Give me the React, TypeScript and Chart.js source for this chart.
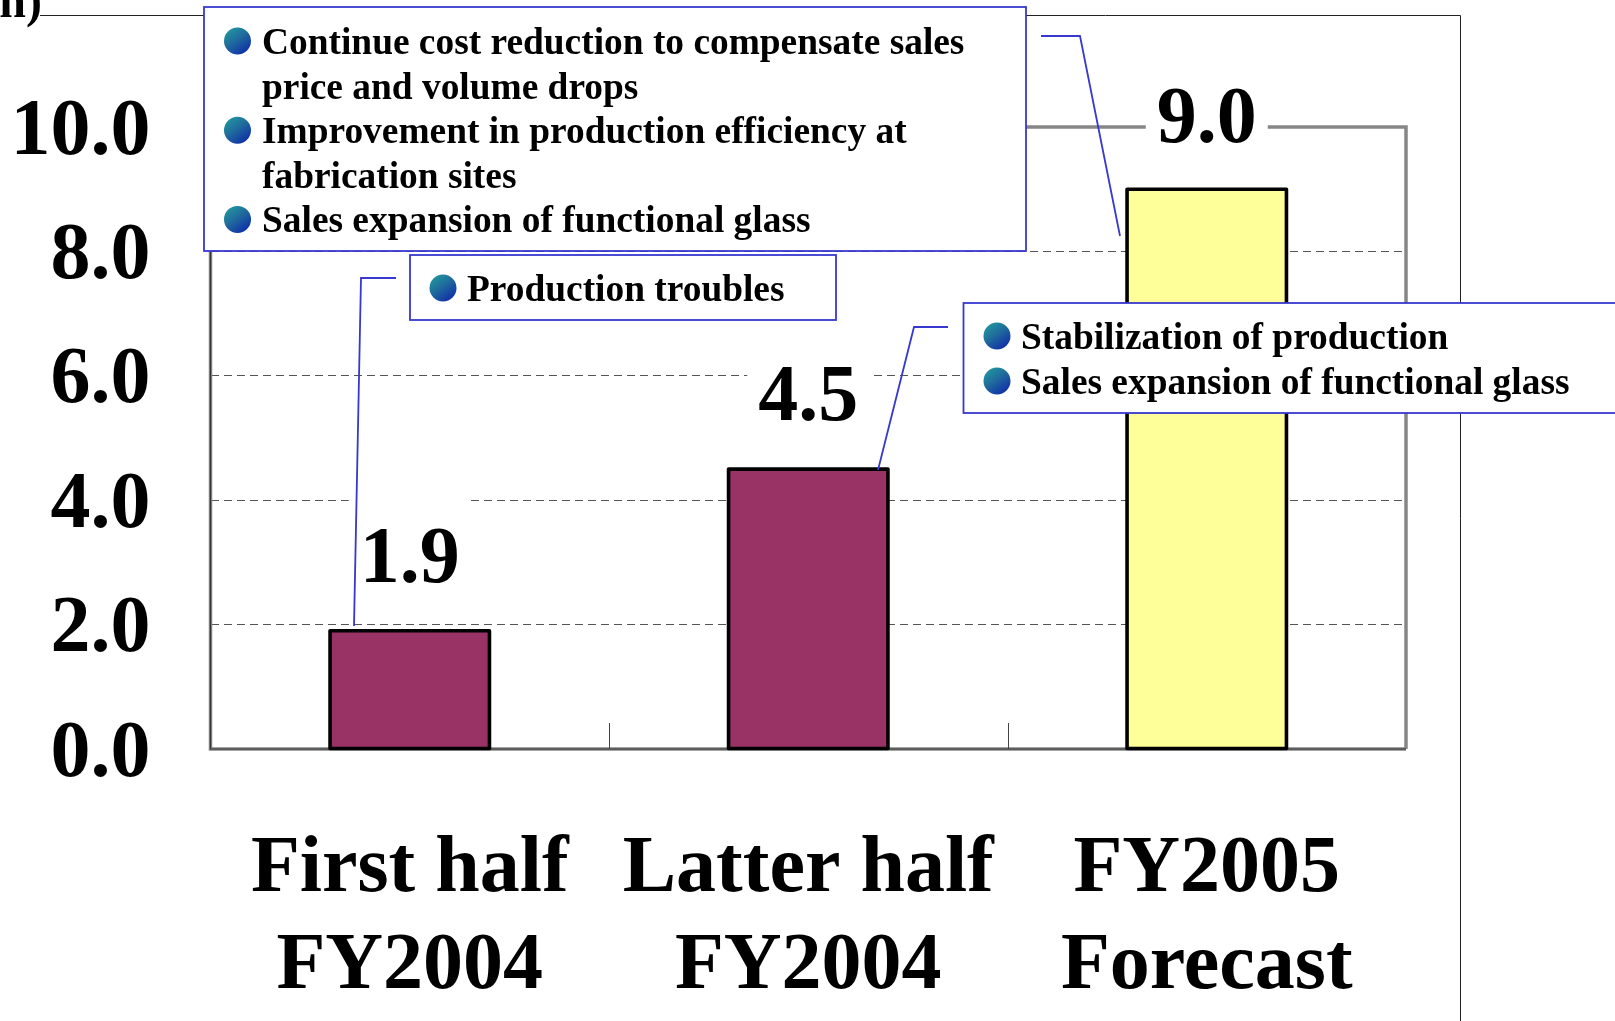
import React, { useEffect, useRef } from "react";
import { Chart, registerables } from "chart.js";

Chart.register(...registerables);

const categories = [
  ["First half", "FY2004"],
  ["Latter half", "FY2004"],
  ["FY2005", "Forecast"],
];
const profit = [1.9, 4.5, 9.0];
const barColors = ["#993366", "#993366", "#FFFF99"];
const yTicks = [0, 2, 4, 6, 8, 10];
const unitFragment = "n)";
const noteForecast = [
  "Continue cost reduction to compensate sales",
  "price and volume drops",
  "Improvement in production efficiency at",
  "fabrication sites",
  "Sales expansion of functional glass",
];
const noteForecastBullets = [true, false, true, false, true];
const noteFirst = ["Production troubles"];
const noteLatter = ["Stabilization of production", "Sales expansion of functional glass"];

const SERIF = '"Liberation Serif", "Times New Roman", serif';
const BLUE = "#3838D0";

function bullet(c: CanvasRenderingContext2D, x: number, y: number) {
  const g = c.createLinearGradient(x - 13, y - 13, x + 6, y + 13);
  g.addColorStop(0, "#20A0A0");
  g.addColorStop(0.5, "#206C9C");
  g.addColorStop(1, "#1030A8");
  c.fillStyle = g;
  c.beginPath();
  c.arc(x, y, 13.5, 0, Math.PI * 2);
  c.fill();
}

function noteBox(
  c: CanvasRenderingContext2D,
  x0: number,
  y0: number,
  x1: number,
  y1: number,
  lines: string[],
  bullets: boolean[],
  bulletX: number,
  textX: number,
  firstBase: number,
  step: number
) {
  c.fillStyle = "#ffffff";
  c.fillRect(x0, y0, x1 - x0, y1 - y0);
  c.strokeStyle = BLUE;
  c.lineWidth = 1.8;
  c.strokeRect(x0, y0, x1 - x0, y1 - y0);
  lines.forEach((t, i) => {
    const base = firstBase + i * step;
    if (bullets[i]) bullet(c, bulletX, base - 13);
    c.fillStyle = "#000000";
    c.font = `bold 37.4px ${SERIF}`;
    c.textAlign = "left";
    c.textBaseline = "alphabetic";
    c.fillText(t, textX, base);
  });
}

function leader(c: CanvasRenderingContext2D, pts: number[][]) {
  c.strokeStyle = BLUE;
  c.lineWidth = 1.8;
  c.beginPath();
  pts.forEach(([x, y], i) => (i ? c.lineTo(x, y) : c.moveTo(x, y)));
  c.stroke();
}

const framePlugin = {
  id: "frame",
  beforeDraw(chart: any) {
    const ys = chart.scales.y;
    ys.getLabelItems().forEach((item: any) => {
      if (!item.options.shifted) {
        item.options.translation[1] += 6;
        item.options.shifted = true;
      }
    });
  },
  beforeDatasetsDraw(chart: any) {
    const c = chart.ctx;
    const { left, right, top, bottom } = chart.chartArea;
    const xs = chart.scales.x;
    c.save();
    c.strokeStyle = "#868686";
    c.lineWidth = 3.5;
    c.lineJoin = "miter";
    c.beginPath();
    c.moveTo(left, top);
    c.lineTo(right, top);
    c.lineTo(right, bottom);
    c.stroke();
    c.beginPath();
    c.moveTo(left, top);
    c.lineTo(left, bottom);
    c.lineTo(right, bottom);
    c.stroke();
    c.strokeStyle = "#333333";
    c.lineWidth = 1.2;
    c.stroke();
    c.lineWidth = 1;
    c.strokeStyle = "#444444";
    for (let i = 0; i < categories.length - 1; i++) {
      const px = Math.round((xs.getPixelForValue(i) + xs.getPixelForValue(i + 1)) / 2) + 0.5;
      c.beginPath();
      c.moveTo(px, bottom);
      c.lineTo(px, bottom - 26);
      c.stroke();
    }
    // masks behind the value labels interrupt the grid and the frame
    c.fillStyle = "#ffffff";
    const meta = chart.getDatasetMeta(0);
    meta.data.forEach((bar: any) => {
      c.fillRect(bar.x - 61, bar.y - 147, 122, 105);
    });
    c.restore();
  },
  afterDatasetsDraw(chart: any) {
    const c = chart.ctx;
    const meta = chart.getDatasetMeta(0);
    c.save();
    c.strokeStyle = "#000000";
    c.lineWidth = 3.6;
    c.lineJoin = "round";
    meta.data.forEach((bar: any) => {
      c.strokeRect(bar.x - bar.width / 2, bar.y, bar.width, bar.base - bar.y);
    });
    c.restore();
  },
  afterDraw(chart: any) {
    const c = chart.ctx;
    const meta = chart.getDatasetMeta(0);
    c.save();
    // outer frame
    c.strokeStyle = "#222222";
    c.lineWidth = 1;
    c.beginPath();
    c.moveTo(40, 15.5);
    c.lineTo(1460.5, 15.5);
    c.lineTo(1460.5, 1021);
    c.stroke();
    c.fillStyle = "#000000";
    c.textAlign = "right";
    c.textBaseline = "alphabetic";
    c.font = `bold 48px ${SERIF}`;
    c.fillText(unitFragment, 42, 17);

    // value labels
    c.textAlign = "center";
    c.font = `bold 80px ${SERIF}`;
    meta.data.forEach((bar: any, i: number) => {
      c.fillText(profit[i].toFixed(1), bar.x, bar.y - (i === 2 ? 47 : 49));
    });

    leader(c, [[396, 278], [361, 278], [354, 626]]);
    leader(c, [[948, 327], [914, 327], [878, 470]]);
    leader(c, [[1041, 36], [1080, 36], [1120, 236]]);

    noteBox(c, 204, 7, 1026, 251, noteForecast, noteForecastBullets, 237.5, 262, 54, 44.6);
    noteBox(c, 410, 255, 836, 320, noteFirst, [true], 443, 467, 301, 44.6);
    noteBox(c, 963.5, 303, 1630, 413, noteLatter, [true, true], 997, 1021, 349, 45);
    c.restore();
  },
};

export default function App() {
  const ref = useRef<HTMLCanvasElement>(null);
  useEffect(() => {
    document.body.style.margin = "0";
    const chart = new Chart(ref.current!, {
      type: "bar",
      data: {
        labels: categories,
        datasets: [
          {
            data: profit,
            backgroundColor: barColors,
            borderWidth: 0,
            categoryPercentage: 0.4,
            barPercentage: 1,
          },
        ],
      },
      options: {
        animation: false,
        responsive: false,
        layout: { padding: { top: 127, right: 209, left: 0, bottom: 0 } },
        plugins: { legend: { display: false }, tooltip: { enabled: false }, title: { display: false } },
        scales: {
          x: {
            grid: { display: false },
            border: { display: false },
            ticks: {
              color: "#000000",
              maxRotation: 0,
              autoSkip: false,
              padding: 65,
              font: { family: SERIF, size: 80, weight: "bold", lineHeight: 1.21 },
            },
            afterFit(s: any) {
              s.height = 272;
            },
          },
          y: {
            min: 0,
            max: 10,
            afterBuildTicks(s: any) {
              s.ticks = yTicks.map((v) => ({ value: v }));
            },
            grid: { color: "#555555", lineWidth: 1, drawTicks: false },
            border: { display: false, dash: [8, 5] },
            ticks: {
              color: "#000000",
              padding: 60,
              callback: (v: any) => Number(v).toFixed(1),
              font: { family: SERIF, size: 80, weight: "bold" },
            },
            afterFit(s: any) {
              s.width = 210.5;
            },
          },
        },
      },
      plugins: [framePlugin],
    } as any);
    return () => chart.destroy();
  }, []);
  return <canvas ref={ref} width={1615} height={1021} style={{ display: "block" }} />;
}
